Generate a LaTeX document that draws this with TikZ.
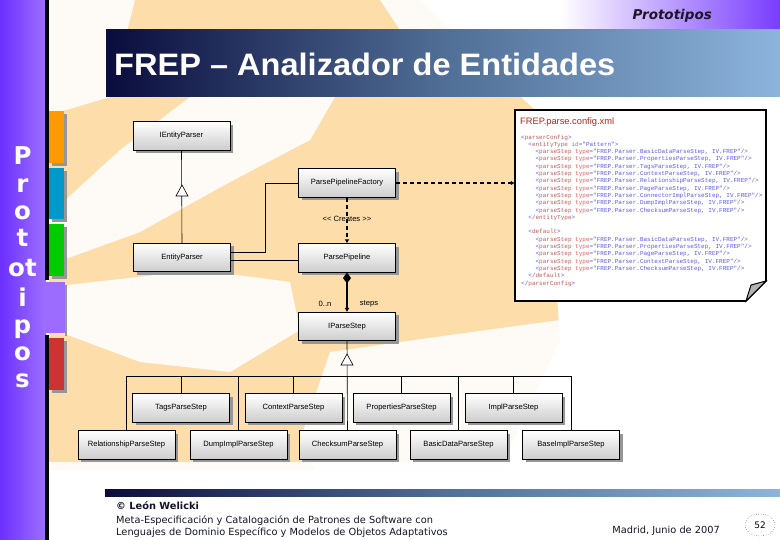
\documentclass[tikz,border=0pt]{standalone}
\usepackage{fontspec}
\setmainfont{Liberation Sans}
\newfontfamily\dejab{DejaVu Sans}
\newfontfamily\monof{Liberation Mono}
\usetikzlibrary{arrows.meta,shapes.geometric,calc,shadows}
\definecolor{peach}{RGB}{253,222,170}
\definecolor{bandL}{RGB}{108,48,255}
\definecolor{bandR}{RGB}{158,112,255}
\definecolor{bandT}{RGB}{155,108,255}
\definecolor{topP}{RGB}{120,60,255}
\definecolor{navy}{RGB}{10,12,60}
\definecolor{navymid}{RGB}{80,110,150}
\definecolor{lblue}{RGB}{140,180,220}
\definecolor{tabO}{RGB}{255,153,0}
\definecolor{tabB}{RGB}{0,153,204}
\definecolor{tabG}{RGB}{0,204,0}
\definecolor{tabR}{RGB}{204,51,51}
\definecolor{shadowg}{RGB}{150,150,150}
\definecolor{boxbot}{RGB}{205,205,205}
\definecolor{foottxt}{RGB}{20,20,40}
\definecolor{hdrtxt}{RGB}{30,20,40}
\definecolor{xmlred}{RGB}{170,40,30}
\definecolor{xtag}{RGB}{163,21,21}
\definecolor{xattr}{RGB}{230,20,20}
\definecolor{xval}{RGB}{20,20,230}
\definecolor{xdel}{RGB}{20,20,230}
\newcommand\xmlT[1]{\textcolor{xtag}{#1}}
\newcommand\xmlA[1]{\textcolor{xattr}{#1}}
\newcommand\xmlV[1]{\textcolor{xval}{#1}}
\newcommand\xmlD[1]{\textcolor{xdel}{#1}}
\newcommand\pstep[1]{\phantom{xxxx}\xmlD{<}\xmlT{parseStep} \xmlA{type}\xmlD{=}\xmlV{"FREP.Parser.#1, IV.FREP"}\xmlD{/>}}
\begin{document}
\begin{tikzpicture}[x=1pt,y=-1pt,
  umlbox/.style={draw=black, line width=0.6pt, top color=white, bottom color=boxbot,
    minimum width=97pt, minimum height=28.5pt, inner sep=1pt,
    font=\fontsize{7.6}{8}\selectfont,
    drop shadow={shadow xshift=3pt, shadow yshift=-3pt, fill=shadowg, opacity=1}},
  lbl/.style={font=\fontsize{7.6}{8}\selectfont, inner sep=0pt},
  conn/.style={line width=0.6pt},
  sideL/.style={text=white, font=\dejab\bfseries\fontsize{24.5}{25}\selectfont, anchor=base, inner sep=0pt},
  foot/.style={font=\dejab\fontsize{9.8}{11}\selectfont, anchor=base west, inner sep=0pt, text=foottxt},
  hollowtri/.style={draw=black, fill=white, line width=0.6pt},
  wblot/.style={fill=white, opacity=0.9}
]
\useasboundingbox (0,0) rectangle (780,540);
\fill[white] (0,0) rectangle (780,540);
% background blotches
\fill[peach] (49,0) -- (420,0) -- (545,120) -- (560,340) -- (500,470) -- (49,470) -- cycle;
\fill[wblot] (49,0) -- (135,0) -- (110,97) -- (49,115) -- cycle;
\fill[wblot] (380,0) -- (560,0) -- (560,30) -- (400,30) -- cycle;
\fill[wblot] (49,215) -- (49,265) -- (140,232) -- (230,182) -- (310,140) -- (335,97) -- (190,97) -- (120,150) -- cycle;
\fill[wblot] (49,287) -- (200,270) -- (290,282) -- (300,330) -- (230,372) -- (140,362) -- (49,328) -- cycle;
\fill[wblot] (330,352) -- (450,335) -- (560,320) -- (560,480) -- (320,480) -- (300,440) -- cycle;
\fill[wblot] (49,462) -- (560,462) -- (560,480) -- (49,480) -- cycle;
% top right gradient
\shade[left color=white, right color=topP] (560,0) rectangle (780,30);
% left band
\shade[left color=bandL, right color=bandR] (0,0) rectangle (46,540);
\fill[bandT] (45,282) rectangle (65,333);
\fill[black] (45,0) rectangle (49,280);
\fill[black] (45,335) rectangle (49,540);
% coloured tabs
\foreach \ya/\yb/\c in {111/163/tabO,168/219/tabB,224/276/tabG,338/390/tabR}{
  \fill[shadowg] (52,\ya+3) rectangle (67,\yb+3);
  \fill[\c] (49,\ya) rectangle (64,\yb);
}
\fill[shadowg] (65,285) rectangle (67,336);
% side letters
\node[sideL] (l1) at (22.5,165) {P};
\node[sideL] (l2) at (22.5,193) {r};
\node[sideL] (l3) at (22.5,220) {o};
\node[sideL] (l4) at (22.5,247) {t};
\node[sideL] (l5) at (22.5,277) {ot};
\node[sideL] (l6) at (22.5,307) {i};
\node[sideL] (l7) at (22.5,334) {p};
\node[sideL] (l8) at (22.5,360) {o};
\node[sideL] (l9) at (22.5,388) {s};
% header
\node[anchor=base east, inner sep=0pt, font=\dejab\bfseries\itshape\fontsize{13.5}{13.5}\selectfont, text=hdrtxt] (hdr) at (712,20) {Prototipos};
\shade[left color=navy, right color=lblue, middle color=navymid] (106,30) rectangle (780,97);
\node[anchor=base west, inner sep=0pt, text=white, font=\bfseries\fontsize{31}{31}\selectfont, xscale=1.05] (title) at (114,76) {FREP – Analizador de Entidades};
% footer
\shade[left color=navy, right color=lblue, middle color=navymid] (105,489) rectangle (780,496);
\node[foot, font=\dejab\bfseries\fontsize{9.8}{11}\selectfont] (f1) at (116,509) {© León Welicki};
\node[foot] (f2) at (116,523) {Meta-Especificación y Catalogación de Patrones de Software con};
\node[foot] (f3) at (116,535) {Lenguajes de Dominio Específico y Modelos de Objetos Adaptativos};
\node[foot, anchor=base east] (f4) at (720,533) {Madrid, Junio de 2007};
\node[draw, dotted, ellipse, minimum width=30pt, minimum height=22pt, inner sep=0pt, font=\dejab\fontsize{9}{9}\selectfont] (pg) at (760,525) {52};
% XML note
\node[minimum width=251pt, minimum height=191pt, inner sep=0pt] (xml) at (640.5,205.5) {};
\draw[line width=1.6pt, fill=white] (515,110) -- (766,110) -- (766,281) -- (746,301) -- (515,301) -- cycle;
\draw[line width=1pt, fill=gray!60] (746,301) -- (751,285) -- (766,281) -- cycle;
\node[anchor=base west, inner sep=0pt, text=xmlred, font=\fontsize{9.3}{10}\selectfont] (xmltitle) at (520,125) {FREP.parse.config.xml};
\node[anchor=north west, inner sep=0pt, align=left, font=\monof\fontsize{6.0}{7.3}\selectfont, opacity=0.7] (xmltext) at (521,134.5) {%
\xmlD{<}\xmlT{parserConfig}\xmlD{>}\\
\phantom{xx}\xmlD{<}\xmlT{entityType} \xmlA{id}\xmlD{=}\xmlV{"Pattern"}\xmlD{>}\\
\pstep{BasicDataParseStep}\\
\pstep{PropertiesParseStep}\\
\pstep{TagsParseStep}\\
\pstep{ContextParseStep}\\
\pstep{RelationshipParseStep}\\
\pstep{PageParseStep}\\
\pstep{ConnectorImplParseStep}\\
\pstep{DumpImplParseStep}\\
\pstep{ChecksumParseStep}\\
\phantom{xx}\xmlD{</}\xmlT{entityType}\xmlD{>}\\
\mbox{}\\
\phantom{xx}\xmlD{<}\xmlT{default}\xmlD{>}\\
\pstep{BasicDataParseStep}\\
\pstep{PropertiesParseStep}\\
\pstep{PageParseStep}\\
\pstep{ContextParseStep}\\
\pstep{ChecksumParseStep}\\
\phantom{xx}\xmlD{</}\xmlT{default}\xmlD{>}\\
\xmlD{</}\xmlT{parserConfig}\xmlD{>}};
% UML nodes
\node[umlbox] (iep) at (181.5,136) {IEntityParser};
\node[umlbox] (ppf) at (347,183) {ParsePipelineFactory};
\node[umlbox] (ep) at (182,257.5) {EntityParser};
\node[umlbox] (pp) at (347,258) {ParsePipeline};
\node[umlbox] (ips) at (347,326.5) {IParseStep};
\node[umlbox] (rel) at (126.5,445) {RelationshipParseStep};
\node[umlbox] (tags) at (181,408) {TagsParseStep};
\node[umlbox] (dump) at (238.5,445) {DumpImplParseStep};
\node[umlbox] (ctx) at (293.5,408) {ContextParseStep};
\node[umlbox] (chk) at (347.5,445) {ChecksumParseStep};
\node[umlbox] (prop) at (401.5,408) {PropertiesParseStep};
\node[umlbox] (basic) at (458.5,445) {BasicDataParseStep};
\node[umlbox] (impl) at (513.5,408) {ImplParseStep};
\node[umlbox] (bimpl) at (571,445) {BaseImplParseStep};
% connectors
\draw[conn] (ep.north) -- (iep.south);
\draw[hollowtri] (182,185) -- (176,196) -- (188,196) -- cycle;
\draw[conn] (ep.east |- 0,252) -- (265,252) -- (265,183) -- (ppf.west);
\draw[conn] (ep.east |- 0,260) -- (pp.west |- 0,260);
\node[lbl] (cre) at (347,219) {{<}{<} Creates {>}{>}};
\draw[line width=1.5pt, dash pattern=on 4pt off 3pt, -{Latex[length=4pt,width=4.5pt]}] (ppf.south) -- (pp.north);
\draw[line width=1.5pt, dash pattern=on 4pt off 3pt, -{Latex[length=4pt,width=4.5pt]}] (ppf.east) -- (ppf.east -| xml.west);
\draw[line width=1.6pt, {Diamond[length=11pt,width=8pt]}-{Latex[length=4pt,width=5pt]}] (pp.south) -- (ips.north);
\node[lbl] (mul) at (325,304) {0..n};
\node[lbl] (role) at (369,304) {steps};
\coordinate (bus) at (0,376);
\draw[conn] (ips.south) -- (chk.north);
\draw[hollowtri] (347,354) -- (341,365) -- (353,365) -- cycle;
\draw[conn] (rel.north) -- (rel.north |- bus) -- (bimpl.north |- bus) -- (bimpl.north);
\foreach \n in {tags,dump,ctx,prop,basic,impl}{\draw[conn] (\n.north) -- (\n.north |- bus);}
\end{tikzpicture}
\end{document}
